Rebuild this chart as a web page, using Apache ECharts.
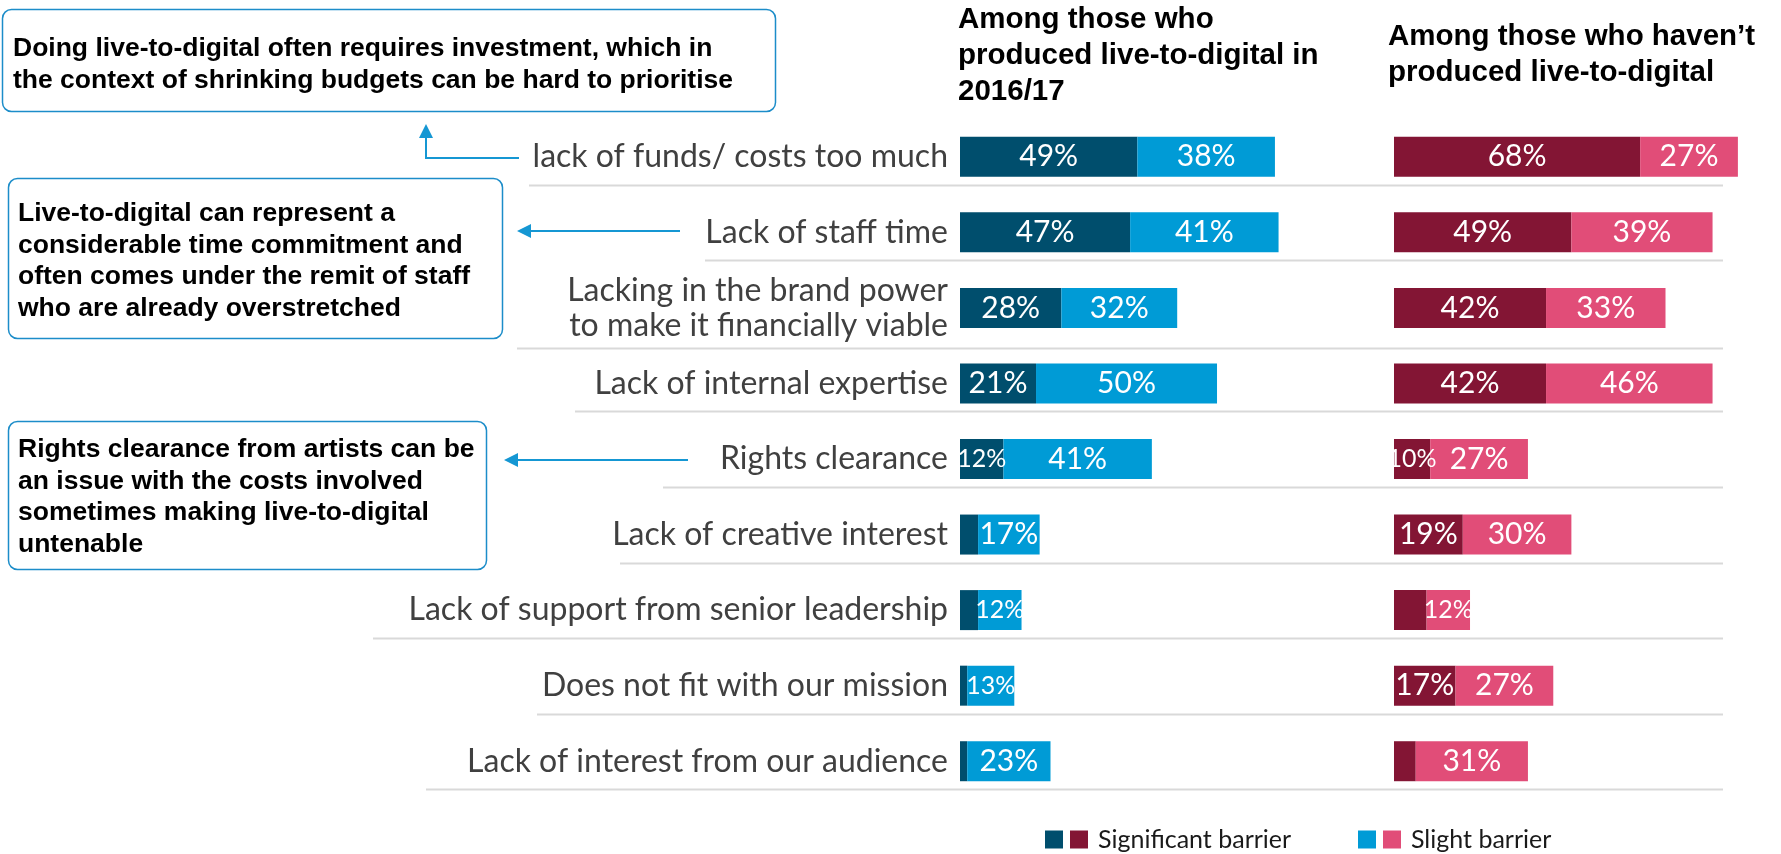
<!DOCTYPE html>
<html>
<head>
<meta charset="utf-8">
<title>Barriers to live-to-digital</title>
<script src="https://cdn.jsdelivr.net/npm/echarts@6/dist/echarts.min.js"></script>
<style>
  html, body { margin: 0; padding: 0; background: #ffffff; }
  #chart { width: 1781px; height: 854px; }
</style>
</head>
<body>
<div id="chart"></div>
<script>
// Barriers, top to bottom
const categories = [
  'lack of funds/ costs too much',
  'Lack of staff time',
  'Lacking in the brand power\nto make it financially viable',
  'Lack of internal expertise',
  'Rights clearance',
  'Lack of creative interest',
  'Lack of support from senior leadership',
  'Does not fit with our mission',
  'Lack of interest from our audience'
];

// Among those who produced live-to-digital in 2016/17 (%)
const producedSignificant = [49, 47, 28, 21, 12, 5, 5, 2, 2];
const producedSlight      = [38, 41, 32, 50, 41, 17, 12, 13, 23];

// Among those who haven't produced live-to-digital (%)
const notProducedSignificant = [68, 49, 42, 42, 10, 19, 9, 17, 6];
const notProducedSlight      = [27, 39, 33, 46, 27, 30, 12, 27, 31];

const panelTitles = [
  'Among those who\nproduced live-to-digital in\n2016/17',
  'Among those who haven\u2019t\nproduced live-to-digital'
];

const legendNames = ['Significant barrier', 'Slight barrier'];

const callouts = [
  'Doing live-to-digital often requires investment, which in\nthe context of shrinking budgets can be hard to prioritise',
  'Live-to-digital can represent a\nconsiderable time commitment and\noften comes under the remit of staff\nwho are already overstretched',
  'Rights clearance from artists can be\nan issue with the costs involved\nsometimes making live-to-digital\nuntenable'
];

// ---- layout & style ----
const COLORS = {
  prodSig: '#004e6d',
  prodSlight: '#009bd6',
  notSig: '#831534',
  notSlight: '#e14d78',
  rule: '#d9d9d9',
  callout: '#1c8dc9',
  arrow: '#1597d3'
};
const LABEL_FONT = 'Lato, "Open Sans", sans-serif';
const BOLD_FONT = '"Liberation Sans", Arial, sans-serif';
// left end of each row's separator rule (x, px)
const ruleLeft = [529, 705, 517, 575, 663, 620, 373, 537, 426];
const ruleRight = 1723;

function barItems(values) {
  return values.map(v => {
    const item = { value: v };
    if (v < 10) {
      item.label = { show: false };
    } else if (v <= 13) {
      item.label = { fontSize: 25 };
    }
    return item;
  });
}

const seriesIds = {
  prodSig: 'Significant barrier (produced)',
  prodSlight: 'Slight barrier (produced)',
  notSig: 'Significant barrier (not produced)',
  notSlight: 'Slight barrier (not produced)'
};

const barLabel = {
  show: true,
  position: 'inside',
  formatter: '{c}%',
  color: '#ffffff',
  fontFamily: LABEL_FONT,
  fontSize: 30
};

function makeSeries(name, values, color, idx, stack) {
  return {
    name: name,
    type: 'bar',
    stack: stack,
    xAxisIndex: idx,
    yAxisIndex: idx,
    barWidth: 40,
    data: barItems(values),
    itemStyle: { color: color },
    label: barLabel,
    emphasis: { disabled: true }
  };
}

const chart = echarts.init(document.getElementById('chart'), null, { renderer: 'canvas' });

const legendText = {};
legendText[seriesIds.prodSig] = '';
legendText[seriesIds.notSig] = legendNames[0];
legendText[seriesIds.prodSlight] = '';
legendText[seriesIds.notSlight] = legendNames[1];

const legendBase = {
  orient: 'horizontal',
  top: 827,
  padding: 0,
  itemWidth: 18,
  itemHeight: 18,
  itemGap: 7,
  icon: 'rect',
  selectedMode: false,
  formatter: name => legendText[name],
  textStyle: { fontFamily: LABEL_FONT, fontSize: 25, color: '#1a1a1a', padding: [0, 0, 0, 5] }
};

const titleStyle = {
  fontFamily: BOLD_FONT, fontWeight: 'bold', fontSize: 29.5, lineHeight: 36, color: '#000000'
};

chart.setOption({
  animation: false,
  backgroundColor: '#ffffff',
  title: [
    { text: panelTitles[0], left: 958, top: 2, padding: 0, textStyle: titleStyle },
    { text: panelTitles[1], left: 1388, top: 19, padding: 0, textStyle: titleStyle }
  ],
  legend: [
    Object.assign({}, legendBase, { left: 1045, data: [seriesIds.prodSig, seriesIds.notSig] }),
    Object.assign({}, legendBase, { left: 1358, data: [seriesIds.prodSlight, seriesIds.notSlight] })
  ],
  grid: [
    { left: 960, top: 119, width: 362, height: 680 },
    { left: 1394, top: 119, width: 362, height: 680 }
  ],
  xAxis: [
    { type: 'value', gridIndex: 0, min: 0, max: 100, show: false },
    { type: 'value', gridIndex: 1, min: 0, max: 100, show: false }
  ],
  yAxis: [
    {
      type: 'category', gridIndex: 0, data: categories, inverse: true,
      axisLine: { show: false }, axisTick: { show: false }, splitLine: { show: false },
      axisLabel: {
        margin: 12, fontFamily: LABEL_FONT, fontSize: 32, lineHeight: 35,
        color: '#404040', align: 'right'
      }
    },
    {
      type: 'category', gridIndex: 1, data: categories, inverse: true,
      axisLine: { show: false }, axisTick: { show: false }, axisLabel: { show: false }, splitLine: { show: false }
    }
  ],
  series: [
    makeSeries(seriesIds.prodSig, producedSignificant, COLORS.prodSig, 0, 'produced'),
    makeSeries(seriesIds.prodSlight, producedSlight, COLORS.prodSlight, 0, 'produced'),
    makeSeries(seriesIds.notSig, notProducedSignificant, COLORS.notSig, 1, 'notProduced'),
    makeSeries(seriesIds.notSlight, notProducedSlight, COLORS.notSlight, 1, 'notProduced')
  ]
});

// ---- row rules, callout boxes and arrows ----
const rowY = categories.map(c => chart.convertToPixel({ yAxisIndex: 0 }, c));
const graphics = [];

categories.forEach((c, i) => {
  const lines = c.split('\n').length;
  const y = Math.round(rowY[i] + (lines > 1 ? 40 : 28)) + 0.5;
  graphics.push({
    type: 'line', z: 1, silent: true,
    shape: { x1: ruleLeft[i], y1: y, x2: ruleRight, y2: y },
    style: { stroke: COLORS.rule, lineWidth: 2 }
  });
});

function calloutBox(x, y, w, h, text, tx, ty) {
  graphics.push({
    type: 'rect', z: 2, silent: true,
    shape: { x: x, y: y, width: w, height: h, r: 9 },
    style: { fill: '#ffffff', stroke: COLORS.callout, lineWidth: 1.5 }
  });
  graphics.push({
    type: 'text', z: 3, silent: true,
    x: tx, y: ty,
    style: {
      text: text, fill: '#000000', font: 'bold 26.5px ' + BOLD_FONT,
      lineHeight: 31.5, verticalAlign: 'top', align: 'left'
    }
  });
}

calloutBox(2.5, 9.5, 773, 102, callouts[0], 13, 33);
calloutBox(8.5, 178.5, 494, 160, callouts[1], 18, 198);
calloutBox(8.5, 421.5, 478, 148, callouts[2], 18, 434);

function arrowLeft(xTip, xEnd, y) {
  graphics.push({
    type: 'line', z: 2, silent: true,
    shape: { x1: xTip + 10, y1: y, x2: xEnd, y2: y },
    style: { stroke: COLORS.arrow, lineWidth: 2 }
  });
  graphics.push({
    type: 'polygon', z: 2, silent: true,
    shape: { points: [[xTip, y], [xTip + 14, y - 7], [xTip + 14, y + 7]] },
    style: { fill: COLORS.arrow }
  });
}

// funds row: elbow arrow pointing up to the top callout
(function () {
  const y = Math.round(rowY[0]) + 1;
  const x = 426;
  graphics.push({
    type: 'polyline', z: 2, silent: true,
    shape: { points: [[519, y], [x, y], [x, 136]] },
    style: { stroke: COLORS.arrow, lineWidth: 2, fill: null }
  });
  graphics.push({
    type: 'polygon', z: 2, silent: true,
    shape: { points: [[x, 124], [x - 7, 138], [x + 7, 138]] },
    style: { fill: COLORS.arrow }
  });
})();

arrowLeft(517, 680, Math.round(rowY[1]) - 1);
arrowLeft(504, 688, Math.round(rowY[4]) + 1);

chart.setOption({ graphic: graphics });
</script>
</body>
</html>
